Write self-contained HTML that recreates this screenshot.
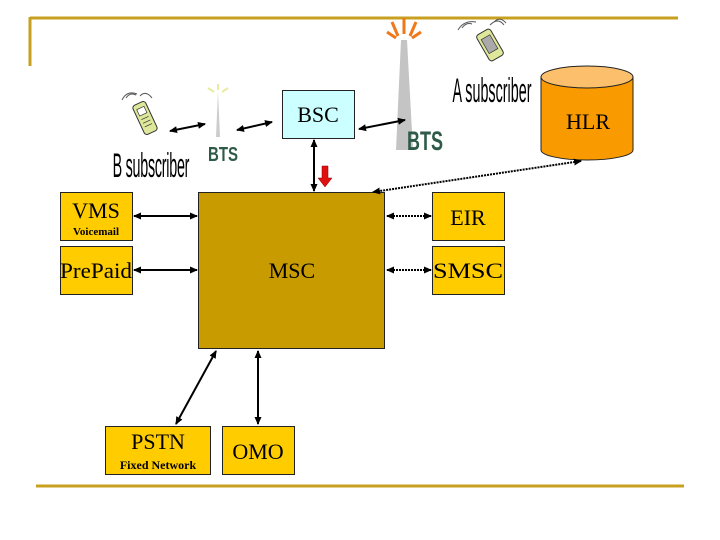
<!DOCTYPE html>
<html><head><meta charset="utf-8"><style>
body{margin:0;background:#fff;}
svg{display:block;}
text{font-family:"Liberation Serif",serif;}
</style></head><body>
<svg width="720" height="540" viewBox="0 0 720 540" xmlns="http://www.w3.org/2000/svg">
<defs>
<marker id="a" markerWidth="8" markerHeight="8" refX="7" refY="4" orient="auto-start-reverse" markerUnits="userSpaceOnUse"><path d="M0,0.5 L8,4 L0,7.5 Z" fill="#000"/></marker>
</defs>
<line x1="30" y1="18" x2="678" y2="18" stroke="#c8a020" stroke-width="3"/>
<line x1="30" y1="17" x2="30" y2="66" stroke="#c8a020" stroke-width="3"/>
<line x1="36" y1="486" x2="684" y2="486" stroke="#c8a020" stroke-width="3"/>

<g transform="translate(145,118) rotate(-25)">
<rect x="-7" y="-16" width="14" height="32" rx="3" fill="#dfe89a" stroke="#333" stroke-width="1"/>
<rect x="-4" y="-11" width="8" height="7" fill="#fff" stroke="#333" stroke-width="0.7"/>
<path d="M-4,0 h8 M-4,4 h8 M-4,8 h8" stroke="#333" stroke-width="0.8"/>
</g>
<path d="M122,100 q5,-10 15,-6 M126,98 q4,-6 10,-3 M140,96 q6,-6 12,2" stroke="#555" fill="none"/>
<path d="M216,137 L218,92 L220,137 Z" fill="#ccc"/>
<path d="M208,88 l6,4 M228,88 l-6,4 M218,84 l0,6" stroke="#e8ec9c" stroke-width="2"/>
<path d="M396,150 L401,40 L407,40 L413,150 Z" fill="#c4c4c4"/>
<path d="M392,22 l6,14 M404,18 l0,16 M416,22 l-6,14 M387,32 l9,6 M421,32 l-9,6" stroke="#f07818" stroke-width="3"/>
<g transform="translate(490,45) rotate(-30)">
<rect x="-8" y="-15" width="16" height="30" rx="3" fill="#dfe89a" stroke="#333" stroke-width="1"/>
<rect x="-5" y="-9" width="10" height="16" fill="#aaa" stroke="#333" stroke-width="0.7"/>
</g>
<path d="M458,30 q6,-10 18,-8 M462,28 q4,-6 10,-4 M490,25 q8,-8 14,0 M494,22 q6,-6 12,1" stroke="#555" fill="none"/>

<text x="151" y="177" font-size="34" text-anchor="middle" transform="translate(151,0) scale(0.42,1) translate(-151,0)" style="font-family:'Liberation Sans Narrow','Liberation Sans',sans-serif" textLength="183">B subscriber</text>
<text x="492" y="102" font-size="34" text-anchor="middle" transform="translate(492,0) scale(0.42,1) translate(-492,0)" style="font-family:'Liberation Sans Narrow','Liberation Sans',sans-serif" textLength="188">A subscriber</text>
<text x="223" y="161" font-size="20" font-weight="bold" fill="#2e5a48" text-anchor="middle" style="font-family:'Liberation Sans',sans-serif" textLength="30" lengthAdjust="spacingAndGlyphs">BTS</text>
<text x="425" y="150" font-size="27" font-weight="bold" fill="#2e5a48" text-anchor="middle" style="font-family:'Liberation Sans',sans-serif" textLength="36" lengthAdjust="spacingAndGlyphs">BTS</text>

<rect x="282.5" y="90.5" width="72" height="48" fill="#ccffff" stroke="#222"/>
<text x="318" y="122" font-size="22" text-anchor="middle">BSC</text>

<path d="M541,77 L541,150 A46,10 0 0 0 633,150 L633,77" fill="#f99b00" stroke="#222"/>
<ellipse cx="587" cy="77" rx="46" ry="11" fill="#fcbf6c" stroke="#222"/>
<text x="588" y="129" font-size="22" text-anchor="middle">HLR</text>

<rect x="198.5" y="192.5" width="186" height="156" fill="#c89b00" stroke="#222"/>
<text x="292" y="278" font-size="22" text-anchor="middle">MSC</text>

<g fill="#ffcc00" stroke="#222">
<rect x="60.5" y="192.5" width="72" height="48"/>
<rect x="60.5" y="246.5" width="72" height="48"/>
<rect x="432.5" y="192.5" width="72" height="48"/>
<rect x="432.5" y="246.5" width="72" height="48"/>
<rect x="105.5" y="426.5" width="105" height="48"/>
<rect x="222.5" y="426.5" width="72" height="48"/>
</g>
<text x="96" y="218" font-size="22" text-anchor="middle">VMS</text>
<text x="96" y="235" font-size="11" font-weight="bold" text-anchor="middle">Voicemail</text>
<text x="96" y="278" font-size="22" text-anchor="middle" textLength="72" lengthAdjust="spacingAndGlyphs">PrePaid</text>
<text x="468" y="225" font-size="22" text-anchor="middle">EIR</text>
<text x="468" y="278" font-size="22" text-anchor="middle" textLength="70" lengthAdjust="spacingAndGlyphs">SMSC</text>
<text x="158" y="449" font-size="22" text-anchor="middle">PSTN</text>
<text x="158" y="469" font-size="12" font-weight="bold" text-anchor="middle">Fixed Network</text>
<text x="258" y="459" font-size="22" text-anchor="middle">OMO</text>

<g stroke="#000" stroke-width="2" marker-start="url(#a)" marker-end="url(#a)" fill="none">
<line x1="170" y1="131" x2="205" y2="124"/>
<line x1="237" y1="130" x2="272" y2="122"/>
<line x1="359" y1="129" x2="405" y2="120"/>
<line x1="314" y1="140" x2="314" y2="191"/>
<line x1="134" y1="216" x2="197" y2="216"/>
<line x1="134" y1="270" x2="197" y2="270"/>
<line x1="216" y1="351" x2="176" y2="424"/>
<line x1="258" y1="351" x2="258" y2="424"/>
<line x1="387" y1="216" x2="431" y2="216" stroke-dasharray="2,1"/>
<line x1="387" y1="270" x2="431" y2="270" stroke-dasharray="2,1"/>
<line x1="581" y1="161" x2="373" y2="192" stroke-dasharray="2,1"/>
</g>
<path d="M322,166 h6 v12 h4 l-7,9 l-7,-9 h4 Z" fill="#e01010" stroke="#800" stroke-width="0.5"/>
</svg>
</body></html>
